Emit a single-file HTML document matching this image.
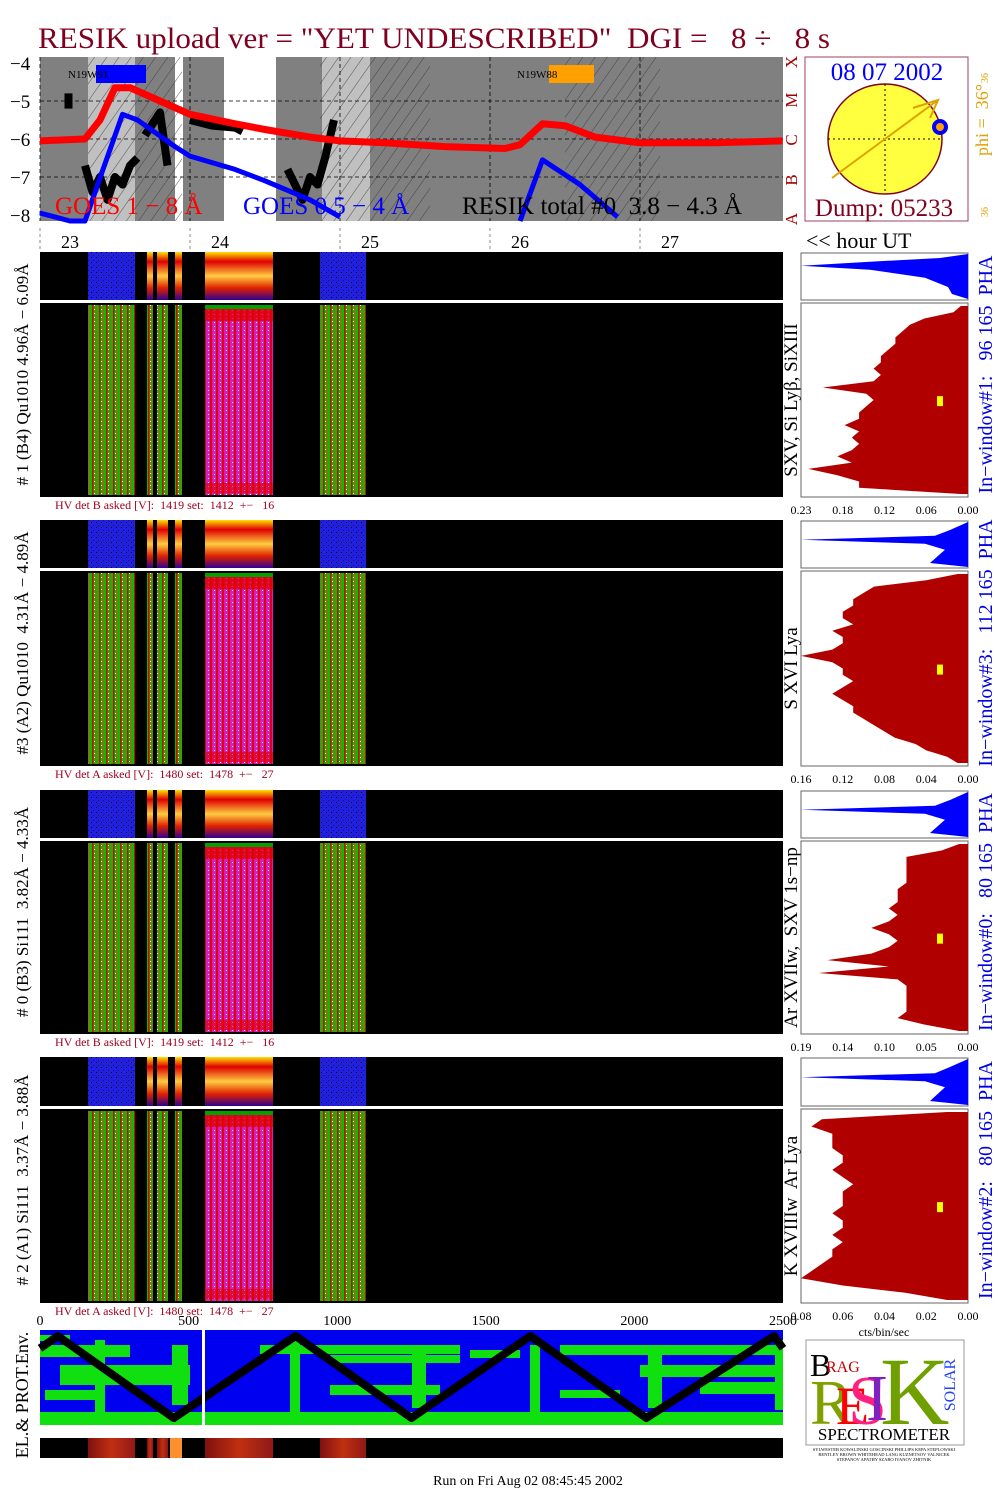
<!DOCTYPE html>
<html><head><meta charset="utf-8"><style>
body{margin:0;background:#fff;}
svg{display:block;font-family:"Liberation Serif",serif;}
text{white-space:pre;}
</style></head><body>
<svg id="s" width="1008" height="1498" viewBox="0 0 1008 1498">
<defs>
<pattern id="hatch" width="10" height="10" patternUnits="userSpaceOnUse" patternTransform="rotate(35)"><line x1="0" y1="0" x2="0" y2="10" stroke="#333" stroke-width="0.8"/></pattern>
<pattern id="gstripe" width="7" height="4" patternUnits="userSpaceOnUse"><rect width="7" height="4" fill="#00c000"/><rect x="1" width="1.5" height="4" fill="#e00000"/><rect x="4.5" width="1" height="4" fill="#ff3030"/><rect x="3" y="1" width="1" height="1" fill="#fff"/></pattern>
<pattern id="mstripe" width="6" height="4" patternUnits="userSpaceOnUse"><rect width="6" height="4" fill="#d020c0"/><rect x="0" width="2" height="4" fill="#e00010"/><rect x="4" y="2" width="1" height="1" fill="#fff"/></pattern>
<pattern id="bdots" width="5" height="5" patternUnits="userSpaceOnUse"><rect width="5" height="5" fill="#2020e0"/><rect x="1" y="2" width="1" height="1" fill="#000"/><rect x="3" y="0" width="1" height="1" fill="#400060"/></pattern>
<linearGradient id="bandv" x1="0" y1="0" x2="0" y2="1"><stop offset="0" stop-color="#ffe000"/><stop offset="0.2" stop-color="#e00000"/><stop offset="0.5" stop-color="#ffcc40"/><stop offset="0.75" stop-color="#e02000"/><stop offset="1" stop-color="#300090"/></linearGradient>
<linearGradient id="orng" x1="0" y1="0" x2="1" y2="0"><stop offset="0" stop-color="#801010"/><stop offset="0.5" stop-color="#c03010"/><stop offset="1" stop-color="#901818"/></linearGradient>
</defs>
<g id="root"></g>
</svg>
<script>
const NS='http://www.w3.org/2000/svg';
const root=document.getElementById('root');
// ---- data ----
const hourTicks=[23,24,25,26,27];
const redT=[23.0,23.3,23.4,23.5,23.6,23.8,24.0,24.3,24.5,24.8,25.0,25.3,25.7,26.1,26.2,26.35,26.5,26.7,27.0,27.5,27.95];
const redV=[-6.05,-6.0,-5.5,-4.65,-4.65,-5.0,-5.35,-5.6,-5.75,-5.95,-6.05,-6.1,-6.2,-6.25,-6.15,-5.6,-5.65,-5.95,-6.1,-6.1,-6.05];
const blueT=[23.0,23.1,23.2,23.3,23.42,23.55,23.65,23.9,24.0,24.3,24.5,24.8,25.0];
const blueV=[-7.95,-8.05,-8.2,-8.3,-6.8,-5.35,-5.5,-6.2,-6.45,-6.8,-7.1,-7.6,-8.05];
const blue2T=[26.2,26.35,26.6,26.85];
const blue2V=[-8.3,-6.55,-7.2,-8.05];
// RESIK total segments (null = gap)
const resikT=[23.19,23.19,null,23.3,23.35,23.4,23.45,23.5,23.55,23.6,23.65,null,23.7,23.75,23.8,23.85,null,24.0,24.15,24.3,24.35,null,24.65,24.7,24.75,24.8,24.85,24.9,24.96];
const resikV=[-4.8,-5.2,null,-6.7,-7.4,-7.0,-7.6,-7.0,-7.2,-6.7,-6.5,null,-5.9,-5.6,-5.3,-6.7,null,-5.5,-5.65,-5.7,-5.8,null,-6.8,-7.2,-7.6,-7.0,-7.2,-6.5,-5.5];
const orbitX=[0,60,450,860,1250,1650,2040,2470,2500];
const orbitY=[0.15,0.0,1.0,0.0,1.0,0.0,1.0,0.0,0.15];
const activeCols=[[88,135],[147,153],[157,168],[175,182],[205,273],[320,366]];
const hist1=[0.01,0.02,0.06,0.08,0.09,0.10,0.10,0.11,0.12,0.12,0.13,0.12,0.13,0.20,0.14,0.13,0.14,0.15,0.15,0.17,0.15,0.16,0.15,0.16,0.18,0.16,0.22,0.18,0.15,0.15,0.01];
const hist2=[0.01,0.04,0.09,0.10,0.11,0.11,0.12,0.12,0.11,0.13,0.12,0.12,0.13,0.16,0.13,0.12,0.12,0.11,0.12,0.13,0.12,0.11,0.11,0.10,0.09,0.08,0.07,0.05,0.04,0.02,0.01];
const hist3=[0.01,0.03,0.07,0.07,0.07,0.07,0.07,0.08,0.08,0.08,0.09,0.08,0.09,0.11,0.09,0.08,0.09,0.11,0.16,0.09,0.17,0.08,0.07,0.07,0.07,0.07,0.07,0.08,0.05,0.01];
const hist4=[0.01,0.07,0.075,0.065,0.065,0.065,0.06,0.06,0.065,0.06,0.055,0.06,0.06,0.06,0.065,0.06,0.06,0.065,0.06,0.065,0.065,0.07,0.075,0.08,0.06,0.03,0.01];
// ---- helpers ----
function el(tag,a,parent){const e=document.createElementNS(NS,tag);for(const k in a)e.setAttribute(k,a[k]);(parent||root).appendChild(e);return e;}
function tx(x,y,s,a,parent){const e=el('text',Object.assign({x:x,y:y},a||{}),parent);e.textContent=s;return e;}
const X0=40,X1=783;
const hx=h=>X0+(h-23)*150;
const ly=v=>63+(-4-v)*38;
// ---- title ----
let t=tx(38,48,'RESIK upload ver = "YET UNDESCRIBED"  DGI =   8 ÷   8 s',{'font-size':30,fill:'#800020',textLength:792,lengthAdjust:'spacingAndGlyphs'});


// ---- top chart ----
let g=el('g',{});


el('rect',{x:X0,y:57,width:743,height:164,fill:'#808080'},g);
[[88,135,'#c0c0c0'],[175,183,'#ffffff'],[224,276,'#ffffff'],[322,370,'#c0c0c0']].forEach(r=>el('rect',{x:r[0],y:57,width:r[1]-r[0],height:164,fill:r[2]},g));
[[88,182],[320,430],[565,660]].forEach(r=>el('rect',{x:r[0],y:57,width:r[1]-r[0],height:164,fill:'url(#hatch)'},g));
[-5,-6,-7].forEach(v=>el('line',{x1:X0,x2:X1,y1:ly(v),y2:ly(v),stroke:'#000','stroke-dasharray':'4,3','stroke-width':0.8},g));
hourTicks.forEach(h=>el('line',{x1:hx(h),x2:hx(h),y1:57,y2:221,stroke:'#000','stroke-dasharray':'4,3','stroke-width':0.8},g));
[-4,-5,-6,-7,-8].forEach(v=>{tx(10,ly(v)+7,'−'+(-v),{'font-size':19});});
function poly(T,V,col,w){let seg=[];const flush=()=>{if(seg.length)el('polyline',{points:seg.join(' '),fill:'none',stroke:col,'stroke-width':w,'stroke-linejoin':'round'},g);seg=[];};
 T.forEach((h,i)=>{if(h===null){flush();return;}seg.push(hx(h)+','+Math.min(ly(V[i]),221));});flush();}
poly(resikT,resikV,'#000',8);
poly(redT,redV,'#ff0000',7);
poly(blueT,blueV,'#0000ff',5);
poly(blue2T,blue2V,'#0000ff',5);
el('rect',{x:96,y:65,width:50,height:18,fill:'#0000ff'},g);tx(68,78,'N19W91',{'font-size':11},g);
el('rect',{x:549,y:65,width:45,height:18,fill:'#ffa000'},g);tx(517,78,'N19W88',{'font-size':11},g);
tx(55,214,'GOES 1 − 8 Å',{'font-size':25,fill:'#ff0000'},g);
tx(243,214,'GOES 0.5 − 4 Å',{'font-size':25,fill:'#0000ff'},g);
tx(462,214,'RESIK total #0  3.8 − 4.3 Å',{'font-size':25,fill:'#000'},g);
[['X',62],['M',100],['C',140],['B',180],['A',219]].forEach(c=>{tx(797,c[1],c[0],{'font-size':17,fill:'#a00000',transform:`rotate(-90 797 ${c[1]})`,'text-anchor':'middle'});});
hourTicks.forEach(h=>{tx(hx(h)+21,248,String(h),{'font-size':18});el('line',{x1:hx(h),x2:hx(h),y1:228,y2:252,stroke:'#888','stroke-dasharray':'3,3'});});
tx(806,248,'<< hour UT',{'font-size':22});
// sun panel
let sp=el('g',{});


el('rect',{x:805,y:57,width:163,height:164,fill:'#fff',stroke:'#a04060','stroke-width':1},sp);
el('ellipse',{cx:885,cy:139,rx:57,ry:55,fill:'#ffff40',stroke:'#800020','stroke-width':1.5},sp);
el('line',{x1:885,y1:84,x2:885,y2:194,stroke:'#000','stroke-dasharray':'2,3'},sp);
el('line',{x1:828,y1:139,x2:942,y2:139,stroke:'#000','stroke-dasharray':'2,3'},sp);
el('line',{x1:832,y1:178,x2:938,y2:100,stroke:'#e0a000','stroke-width':2},sp);
el('polyline',{points:'913,108 938,100 930,118',fill:'none',stroke:'#e0a000','stroke-width':2},sp);
el('circle',{cx:940,cy:127,r:8,fill:'#0000ff'},sp);el('circle',{cx:940,cy:127,r:4,fill:'#ffa000'},sp);
tx(887,80,'08 07 2002',{'font-size':25,fill:'#0000ff','text-anchor':'middle'},sp);
tx(884,216,'Dump: 05233',{'font-size':25,fill:'#800020','text-anchor':'middle'},sp);
tx(988,120,'phi =  36°',{'font-size':18,fill:'#e0a000',transform:'rotate(-90 988 120)','text-anchor':'middle'});
tx(988,78,'36',{'font-size':10,fill:'#e0a000',transform:'rotate(-90 988 78)','text-anchor':'middle'});
tx(988,212,'36',{'font-size':10,fill:'#e0a000',transform:'rotate(-90 988 212)','text-anchor':'middle'});
// ---- spectrogram panels ----
const panels=[
 {s:252,b:303,e:497,hv:'HV det B asked [V]:  1419 set:  1412  +−   16',lab:'# 1 (B4) Qu1010 4.96Å − 6.09Å',ion:'SXV, Si Lyβ, SiXIII',win:'In−window#1:   96 165  PHA',ticks:['0.23','0.18','0.12','0.06','0.00'],max:0.23,h:hist1,sp:0.27,top:true},
 {s:520,b:571,e:766,hv:'HV det A asked [V]:  1480 set:  1478  +−   27',lab:'#3 (A2) Qu1010  4.31Å − 4.89Å',ion:'S XVI Lya',win:'In−window#3:   112 165  PHA',ticks:['0.16','0.12','0.08','0.04','0.00'],max:0.16,h:hist2,sp:0.4},
 {s:790,b:841,e:1034,hv:'HV det B asked [V]:  1419 set:  1412  +−   16',lab:'# 0 (B3) Si111  3.82Å − 4.33Å',ion:'Ar XVIIw,  SXV 1s−np',win:'In−window#0:   80 165  PHA',ticks:['0.19','0.14','0.10','0.05','0.00'],max:0.19,h:hist3,sp:0.4},
 {s:1057,b:1109,e:1303,hv:'HV det A asked [V]:  1480 set:  1478  +−   27',lab:'# 2 (A1) Si111  3.37Å − 3.88Å',ion:'K XVIIIw  Ar Lya',win:'In−window#2:   80 165  PHA',ticks:['0.08','0.06','0.04','0.02','0.00'],max:0.08,h:hist4,sp:0.4}
];
panels.forEach((p,pi)=>{
 const pg=el('g',{});
 
 
 el('rect',{x:X0,y:p.s,width:743,height:p.b-p.s-3,fill:'#000'},pg);
 el('rect',{x:X0,y:p.b,width:743,height:p.e-p.b,fill:'#000'},pg);
 activeCols.forEach((c,ci)=>{
  const w=c[1]-c[0];
  const sf=(ci==0||ci==5)?'url(#bdots)':'url(#bandv)';
  el('rect',{x:c[0],y:p.s,width:w,height:p.b-p.s-3,fill:sf},pg);
  el('rect',{x:c[0],y:p.b+2,width:w,height:p.e-p.b-4,fill:ci==4?'url(#mstripe)':'url(#gstripe)'},pg);
  if(ci==4){el('rect',{x:c[0],y:p.b+2,width:w,height:16,fill:'#e00000',opacity:0.8},pg);el('rect',{x:c[0],y:p.b+2,width:w,height:4,fill:'#00a000'},pg);el('rect',{x:c[0],y:p.e-14,width:w,height:10,fill:'#e00000',opacity:0.6},pg);}
 });
 tx(55,p.e+12,p.hv,{'font-size':12,fill:'#a00020'});
 const cy=(p.s+p.e)/2;
 tx(28,cy,p.lab,{'font-size':17,transform:`rotate(-90 28 ${cy})`,'text-anchor':'middle'});
 tx(797,(p.b+p.e)/2,p.ion,{'font-size':19,transform:`rotate(-90 797 ${(p.b+p.e)/2})`,'text-anchor':'middle'});
 tx(992,cy,p.win,{'font-size':20,fill:'#0000e0',transform:`rotate(-90 992 ${cy})`,'text-anchor':'middle'});
 const hg=el('g',{});
 
 
 el('rect',{x:801,y:p.s+1,width:167,height:p.b-p.s-4,fill:'#fff',stroke:'#666'},hg);
 const sm=p.s+1+(p.b-p.s-4)*p.sp;
 if(p.top) el('path',{d:`M968,${p.s+2} L940,${p.s+6} L870,${sm-4} L801,${sm} L870,${sm+4} L925,${sm+12} L948,${p.b-16} L952,${p.b-9} L968,${p.b-4} Z`,fill:'#0000ff'},hg);
 else el('path',{d:`M968,${p.s+2} L950,${p.s+10} L935,${sm-4} L801,${sm} L925,${sm+4} L945,${sm+10} L930,${p.b-8} L968,${p.b-4} Z`,fill:'#0000ff'},hg);
 el('rect',{x:801,y:p.b,width:167,height:p.e-p.b,fill:'#fff',stroke:'#666'},hg);
 const hx2=v=>968-v/p.max*167;
 const n=p.h.length,hy=i=>p.b+3+i*(p.e-p.b-6)/(n-1);
 let pts=`968,${p.b+3} `+p.h.map((v,i)=>hx2(v)+','+hy(i)).join(' ')+` 968,${p.e-3}`;
 el('polygon',{points:pts,fill:'#b00000'},hg);
 el('rect',{x:937,y:p.b+(p.e-p.b)*0.48,width:6,height:10,fill:'#ffff00'},hg);
 p.ticks.forEach((tk,i)=>tx(801+i*41.75,p.e+17,tk,{'font-size':12,'text-anchor':'middle'}));
});
tx(884,1336,'cts/bin/sec',{'font-size':12,'text-anchor':'middle'});
[0,500,1000,1500,2000,2500].forEach(v=>tx(X0+v*743/2500,1325,String(v),{'font-size':14,'text-anchor':'middle'}));
// env panel
const eg=el('g',{});


el('rect',{x:X0,y:1330,width:743,height:95,fill:'#0000f0'},eg);
[[40,1412,743,13],[40,1345,90,12],[60,1365,130,20],[45,1390,60,10],[260,1345,200,9],[330,1355,130,8],[330,1385,110,10],[470,1350,50,8],[560,1345,223,10],[640,1365,143,12],[700,1382,83,12],[560,1390,60,8],[40,1335,30,6]].forEach(r=>el('rect',{x:r[0],y:r[1],width:r[2],height:r[3],fill:'#10e010'},eg));
[[95,1340,10,75],[172,1345,16,60],[290,1340,10,75],[412,1348,14,60],[530,1345,10,70],[648,1348,14,60],[775,1340,8,70]].forEach(r=>el('rect',{x:r[0],y:r[1],width:r[2],height:r[3],fill:'#10e010'},eg));
el('polyline',{points:orbitX.map((v,i)=>(X0+v*743/2500)+','+(1336+orbitY[i]*82)).join(' '),fill:'none',stroke:'#000','stroke-width':8,'stroke-linejoin':'round'},eg);
el('rect',{x:202,y:1330,width:3,height:95,fill:'#fff'},eg);
tx(28,1395,'EL.& PROT.Env.',{'font-size':18,transform:'rotate(-90 28 1395)','text-anchor':'middle'});
const sg=el('g',{});


el('rect',{x:X0,y:1438,width:743,height:20,fill:'#000'},sg);
activeCols.forEach(c=>el('rect',{x:c[0],y:1438,width:c[1]-c[0],height:20,fill:'url(#orng)'},sg));
el('rect',{x:170,y:1438,width:12,height:20,fill:'#ff9030'},sg);
// logo
const lg=el('g',{});


el('rect',{x:806,y:1340,width:158,height:105,fill:'#fff',stroke:'#999'},lg);
tx(810,1376,'B',{'font-size':32,fill:'#000'},lg);
tx(826,1372,'RAG',{'font-size':16,fill:'#c00000'},lg);
tx(810,1424,'R',{'font-size':64,fill:'#80a000'},lg);
tx(836,1424,'E',{'font-size':54,fill:'#ff0000'},lg);
tx(848,1424,'S',{'font-size':70,fill:'#ff2080'},lg);
tx(866,1420,'I',{'font-size':66,fill:'#8020c0'},lg);
tx(880,1424,'K',{'font-size':96,fill:'#70a000'},lg);
tx(955,1385,'SOLAR',{'font-size':16,fill:'#2040ff',transform:'rotate(-90 955 1385)','text-anchor':'middle'},lg);
tx(884,1440,'SPECTROMETER',{'font-size':17,'text-anchor':'middle'},lg);
tx(884,1451,'SYLWESTER KOWALINSKI GOSCINSKI PHILLIPS KEPA STEPLOWSKI',{'font-size':4.5,'text-anchor':'middle'});
tx(884,1456,'BENTLEY BROWN WHITEHEAD LANG KUZNETSOV VALNICEK',{'font-size':4.5,'text-anchor':'middle'});
tx(884,1461,'STEPANOV APATHY SZABO IVANOV ZHITNIK',{'font-size':4.5,'text-anchor':'middle'});
tx(528,1485,'Run on Fri Aug 02 08:45:45 2002',{'font-size':14,'text-anchor':'middle'});
</script>
</body></html>
